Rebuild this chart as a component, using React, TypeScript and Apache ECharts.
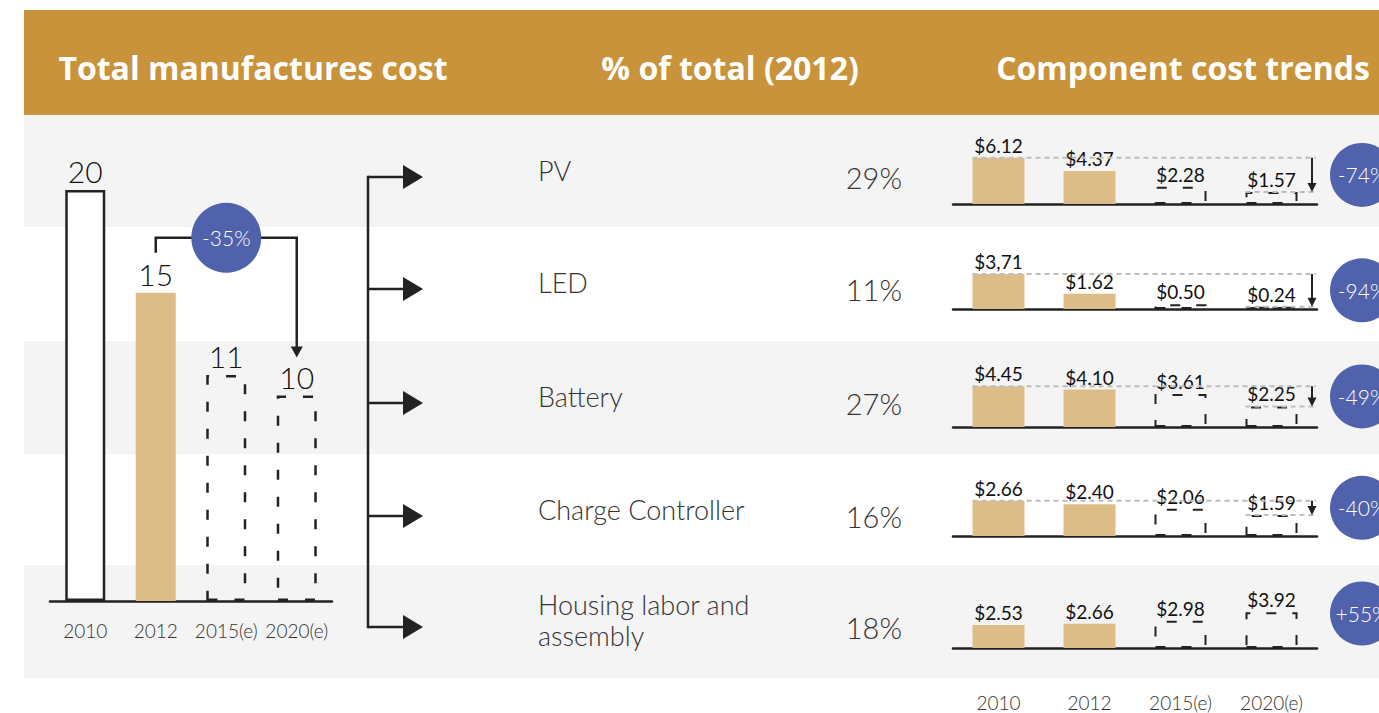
import React, { useEffect, useRef } from "react";
import * as echarts from "echarts";

// ---------- data ----------
const headers = ["Total manufactures cost", "% of total (2012)", "Component cost trends"];

const totalYears = ["2010", "2012", "2015(e)", "2020(e)"];
const totalCost = [20, 15, 11, 10];
const totalChange = "-35%";

const components = ["PV", "LED", "Battery", "Charge Controller", "Housing labor and\nassembly"];
const shares = ["29%", "11%", "27%", "16%", "18%"];

const trendYears = ["2010", "2012", "2015(e)", "2020(e)"];
const pvCost = [6.12, 4.37, 2.28, 1.57];
const ledCost = [3.71, 1.62, 0.5, 0.24];
const batteryCost = [4.45, 4.1, 3.61, 2.25];
const controllerCost = [2.66, 2.4, 2.06, 1.59];
const housingCost = [2.53, 2.66, 2.98, 3.92];
const trendChange = ["-74%", "-94%", "-49%", "-40%", "+55%"];
const costLabelOverrides: Record<string, string> = { "1-0": "$3,71" };

const trendRows = [pvCost, ledCost, batteryCost, controllerCost, housingCost];

// ---------- layout / style ----------
const W = 1379;
const H = 713;
const BAND_X = 24;
const rowTops = [115, 227, 341, 454, 565, 678];
const trendBase = [204, 309, 427, 536, 648];
const trendMax = [7.0, 5.6, 5.8, 4.0, 5.8];
const TREND_H = 53;
const TREND_LEFT = 953;
const TREND_W = 364;
const TREND_BAR = 52;

const GOLD = "#C8933A";
const TAN = "#DDBD87";
const BLUE = "#4F62AB";
const INK = "#222222";
const BAND = "#F4F4F4";
const FONT = "Lato, 'Open Sans', sans-serif";
const HEAD_FONT = "'Open Sans', Lato, sans-serif";

const solidOutline = { color: "#ffffff", borderColor: INK, borderWidth: 2.5 };
const filled = { color: TAN };
const dashedBig = { color: "transparent", borderColor: INK, borderWidth: 2.5, borderType: [10, 17] };
const dashedSmall = { color: "transparent", borderColor: INK, borderWidth: 2, borderType: [10, 16] };
const leftStyles = [solidOutline, filled, dashedBig, dashedBig];
const rightStyles = [filled, filled, dashedSmall, dashedSmall];

export default function App() {
  const ref = useRef<HTMLDivElement>(null);

  useEffect(() => {
    document.body.style.margin = "0";
    if (!ref.current) return;
    const chart = echarts.init(ref.current, undefined, { renderer: "svg" });

    const axisLine = { show: true, lineStyle: { color: INK, width: 2.5 } };
    const yearLabel = {
      color: "#333",
      fontSize: 19,
      fontWeight: 300,
      fontFamily: FONT,
      interval: 0,
      hideOverlap: false,
    };

    const option: any = {
      animation: false,
      backgroundColor: "#ffffff",
      grid: [
        { left: 50, width: 282, top: 190, height: 411, outerBoundsMode: "none" },
        ...trendBase.map((b) => ({
          left: TREND_LEFT,
          width: TREND_W,
          top: b - TREND_H,
          height: TREND_H,
          outerBoundsMode: "none",
        })),
      ],
      xAxis: [
        {
          gridIndex: 0,
          type: "category",
          data: totalYears,
          axisLine,
          axisTick: { show: false },
          axisLabel: { ...yearLabel, margin: 20 },
        },
        ...trendRows.map((_, i) => ({
          gridIndex: i + 1,
          type: "category",
          data: trendYears,
          axisLine,
          axisTick: { show: false },
          axisLabel: { ...yearLabel, show: i === trendRows.length - 1, margin: 45 },
        })),
      ],
      yAxis: [
        { gridIndex: 0, type: "value", min: 0, max: 20, show: false },
        ...trendMax.map((m, i) => ({ gridIndex: i + 1, type: "value", min: 0, max: m, show: false })),
      ],
      series: [
        {
          type: "bar",
          xAxisIndex: 0,
          yAxisIndex: 0,
          barWidth: 40,
          silent: true,
          z: 3,
          data: totalCost.map((v, i) => ({ value: v, itemStyle: leftStyles[i] })),
          label: {
            show: true,
            position: "top",
            distance: 4,
            color: "#111",
            fontSize: 30,
            fontWeight: 300,
            fontFamily: FONT,
          },
        },
        ...trendRows.map((row, r) => ({
          type: "bar",
          xAxisIndex: r + 1,
          yAxisIndex: r + 1,
          barWidth: TREND_BAR,
          silent: true,
          z: 3,
          data: row.map((v, i) => ({ value: v, itemStyle: rightStyles[i] })),
          label: {
            show: true,
            position: "top",
            distance: 3,
            color: "#111",
            fontSize: 19,
            fontFamily: FONT,
            formatter: (p: any) =>
              costLabelOverrides[`${r}-${p.dataIndex}`] ?? "$" + Number(p.value).toFixed(2),
          },
        })),
      ],
    };

    chart.setOption(option);

    const px = (g: number, c: number, v: number) =>
      chart.convertToPixel({ gridIndex: g } as any, [c, v]) as number[];

    const els: any[] = [];
    // header
    els.push({
      type: "rect",
      z: -1,
      shape: { x: BAND_X, y: 10, width: W - BAND_X, height: 105 },
      style: { fill: GOLD },
    });
    const headerX = [253, 730, 1183];
    headers.forEach((t, i) =>
      els.push({
        type: "text",
        x: headerX[i],
        y: 67,
        z: 1,
        style: {
          text: t,
          fill: "#ffffff",
          fontSize: 32,
          fontWeight: "bold",
          fontFamily: HEAD_FONT,
          align: "center",
          textAlign: "center",
          verticalAlign: "middle",
          textVerticalAlign: "middle",
        },
      })
    );
    // bands
    for (let i = 0; i < 5; i++) {
      if (i % 2 === 0) {
        els.push({
          type: "rect",
          z: -1,
          shape: { x: BAND_X, y: rowTops[i], width: W - BAND_X, height: rowTops[i + 1] - rowTops[i] },
          style: { fill: BAND },
        });
      }
    }

    // bracket on left chart
    const l = px(0, 1, totalCost[1]);
    const r = px(0, 3, totalCost[3]);
    const legBottom = l[1] - 40;
    const hy = legBottom - 15;
    const tip = r[1] - 38;
    els.push({
      type: "polyline",
      z: 10,
      shape: { points: [[l[0], legBottom], [l[0], hy], [r[0], hy], [r[0], tip - 10]] },
      style: { stroke: INK, lineWidth: 2.5, fill: null },
    });
    els.push({
      type: "polygon",
      z: 10,
      shape: { points: [[r[0] - 6, tip - 11], [r[0] + 6, tip - 11], [r[0], tip]] },
      style: { fill: INK },
    });
    const cx = (l[0] + r[0]) / 2;
    els.push({ type: "circle", z: 11, shape: { cx, cy: hy, r: 35 }, style: { fill: BLUE } });
    els.push({
      type: "text",
      z: 12,
      x: cx,
      y: hy,
      style: {
        text: totalChange,
        fill: "#fff",
        fontSize: 21,
        fontWeight: 300,
        fontFamily: FONT,
        align: "center",
        textAlign: "center",
        verticalAlign: "middle",
        textVerticalAlign: "middle",
      },
    });

    // middle connectors, labels, shares
    const arrowY = rowTops.slice(0, 5).map((t) => t + 62);
    const lineX = 368;
    els.push({
      type: "line",
      z: 5,
      shape: { x1: lineX, y1: arrowY[0] - 1.25, x2: lineX, y2: arrowY[4] + 1.25 },
      style: { stroke: INK, lineWidth: 2.5 },
    });
    arrowY.forEach((y, i) => {
      els.push({
        type: "line",
        z: 5,
        shape: { x1: lineX, y1: y, x2: 406, y2: y },
        style: { stroke: INK, lineWidth: 2.5 },
      });
      els.push({
        type: "polygon",
        z: 5,
        shape: { points: [[403, y - 12], [423, y], [403, y + 12]] },
        style: { fill: INK },
      });
      els.push({
        type: "text",
        z: 5,
        x: 538,
        y: rowTops[i] + 55,
        style: {
          text: components[i],
          fill: "#333",
          fontSize: 27,
          fontWeight: 300,
          lineHeight: 31,
          fontFamily: FONT,
          align: "left",
          textAlign: "left",
          verticalAlign: "middle",
          textVerticalAlign: "middle",
        },
      });
      els.push({
        type: "text",
        z: 5,
        x: 902,
        y: y,
        style: {
          text: shares[i],
          fill: "#333",
          fontSize: 29,
          fontWeight: 300,
          fontFamily: FONT,
          align: "right",
          textAlign: "right",
          verticalAlign: "middle",
          textVerticalAlign: "middle",
        },
      });
    });

    // right trend annotations
    trendRows.forEach((row, i) => {
      const g = i + 1;
      const p0 = px(g, 0, row[0]);
      const p3 = px(g, 3, row[3]);
      const rightEnd = TREND_LEFT + TREND_W - 1;
      const decreasing = row[3] < row[0];
      if (decreasing) {
        els.push({
          type: "line",
          z: 10,
          shape: { x1: p0[0] - TREND_BAR / 2, y1: p0[1], x2: rightEnd, y2: p0[1] },
          style: { stroke: "#BDBDBD", lineWidth: 2, lineDash: [5, 4] },
        });
        els.push({
          type: "line",
          z: 10,
          shape: { x1: p3[0] - TREND_BAR / 2, y1: p3[1], x2: rightEnd, y2: p3[1] },
          style: { stroke: "#BDBDBD", lineWidth: 2, lineDash: [5, 4] },
        });
        const ax = rightEnd - 4;
        els.push({
          type: "line",
          z: 11,
          shape: { x1: ax, y1: p0[1], x2: ax, y2: p3[1] - 6 },
          style: { stroke: INK, lineWidth: 2 },
        });
        els.push({
          type: "polygon",
          z: 11,
          shape: { points: [[ax - 4.5, p3[1] - 9], [ax + 4.5, p3[1] - 9], [ax, p3[1]]] },
          style: { fill: INK },
        });
      }
      const cy = decreasing ? (p0[1] + p3[1]) / 2 : (p0[1] + p3[1]) / 2 - 5;
      els.push({ type: "circle", z: 11, shape: { cx: 1362, cy, r: 32 }, style: { fill: BLUE } });
      els.push({
        type: "text",
        z: 12,
        x: 1362,
        y: cy,
        style: {
          text: trendChange[i],
          fill: "#fff",
          fontSize: 21,
          fontWeight: 300,
          fontFamily: FONT,
          align: "center",
          textAlign: "center",
          verticalAlign: "middle",
          textVerticalAlign: "middle",
        },
      });
    });

    chart.setOption({ graphic: els });

    return () => chart.dispose();
  }, []);

  return (
    <div
      ref={ref}
      style={{ position: "absolute", left: 0, top: 0, width: W, height: H }}
    />
  );
}
